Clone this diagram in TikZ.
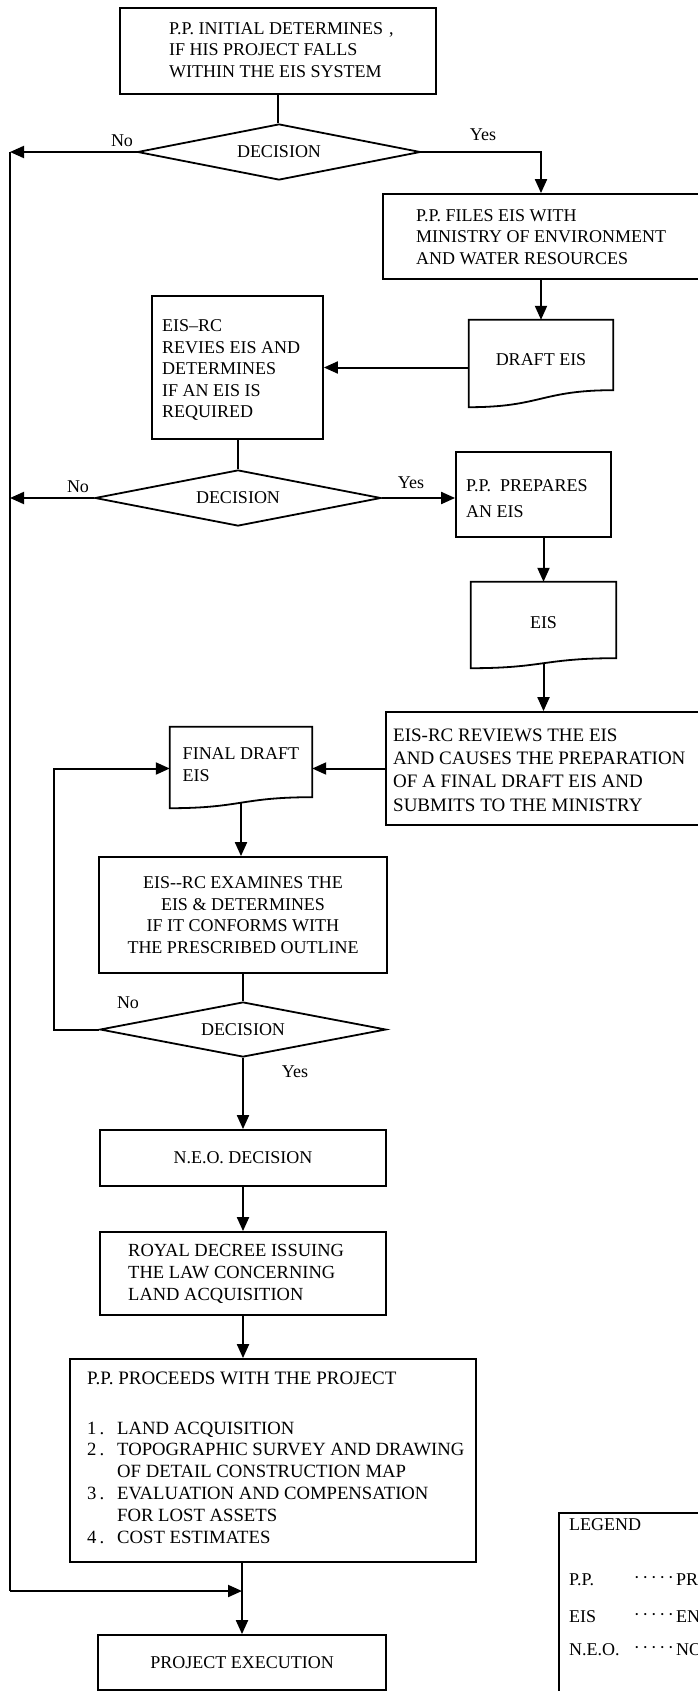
\documentclass[tikz,border=0pt]{standalone}
\usepackage{fontspec}
\setmainfont{Liberation Serif}
\usetikzlibrary{arrows.meta,shapes.geometric,calc}
\newcommand\lgdots{·\kern2.5pt·\kern2.5pt·\kern2.5pt·\kern2.5pt·}
\newcommand\docpath[2]{\draw[shapeline] (#1.north west) -- (#1.north east) -- ($(#1.south east)+(0,-#2)$) .. controls ($(#1.south)+(0,-#2)$) and ($(#1.south)+(0,#2)$) .. ($(#1.south west)+(0,#2)$) -- cycle;}
\begin{document}
\begin{tikzpicture}[x=1pt,y=-1pt,
  every node/.style={font=\fontsize{18}{21.5}\selectfont, inner sep=0pt},
  shapeline/.style={draw, line width=1.8pt},
  box/.style={shapeline, rectangle},
  docn/.style={rectangle, align=left},
  dec/.style={shapeline, diamond, aspect=5},
  txt/.style={align=left, anchor=west},
  ctxt/.style={align=center},
  ln/.style={line width=2pt},
  arr/.style={line width=2pt, -{Triangle[length=14pt,width=12pt]}},
]
\useasboundingbox (0,0) rectangle (698,1691);
\clip (0,0) rectangle (698,1691);

% ---- nodes ----
\node[box, minimum width=316, minimum height=86] (b1) at (278,51) {};
\node[txt] (t1) at (169,50) {P.P. INITIAL DETERMINES\rlap{\hspace{6pt},}\\IF HIS PROJECT FALLS\\WITHIN THE EIS SYSTEM};
\node[dec, minimum width=283, minimum height=56] (d1) at (279,152) {DECISION};
\node (no1) at (122,141) {No};
\node (yes1) at (483,135) {Yes};

\node[box, minimum width=316, minimum height=85] (b2) at (541,236.5) {};
\node[txt] (t2) at (416,237) {P.P. FILES EIS WITH\\MINISTRY OF ENVIRONMENT\\AND WATER RESOURCES};

\node[docn, minimum width=144, minimum height=78.5] (dd) at (541,359.25) {DRAFT EIS};
\docpath{dd}{8.5}

\node[box, minimum width=171, minimum height=143] (b3) at (237.5,367.5) {};
\node[txt] (t3) at (162,370) {EIS–RC\\REVIES EIS AND\\DETERMINES\\IF AN EIS IS\\REQUIRED};

\node[dec, minimum width=286, minimum height=56] (d2) at (238,498) {DECISION};
\node (no2) at (78,487) {No};
\node (yes2) at (411,483) {Yes};

\node[box, minimum width=155, minimum height=85] (b4) at (533.5,494.5) {};
\node[txt] (t4) at (466,498.5) {P.P.\ \ PREPARES\\[5pt]AN EIS};

\node[docn, minimum width=145, minimum height=81] (e1) at (543.5,622.5) {EIS};
\docpath{e1}{5}

\node[box, minimum width=314, minimum height=113] (b5) at (543,768.5) {};
\node[txt, font=\fontsize{19}{23.3}\selectfont] (t5) at (393,770) {EIS-RC REVIEWS THE EIS\\AND CAUSES THE PREPARATION\\OF A FINAL DRAFT EIS AND\\SUBMITS TO THE MINISTRY};

\node[docn, minimum width=142, minimum height=75.5] (fd) at (241,764.75) {FINAL DRAFT\\EIS};
\docpath{fd}{5.5}

\node[box, ctxt, minimum width=288, minimum height=116] (b6) at (243,915) {EIS-{}-RC EXAMINES THE\\EIS \& DETERMINES\\IF IT CONFORMS WITH\\THE PRESCRIBED OUTLINE};

\node[dec, minimum width=286, minimum height=55] (d3) at (243,1029.5) {DECISION};
\node (no3) at (128,1003) {No};
\node (yes3) at (295,1072) {Yes};

\node[box, minimum width=286, minimum height=56] (b7) at (243,1158) {N.E.O. DECISION};

\node[box, minimum width=286, minimum height=83] (b8) at (243,1273.5) {};
\node[txt, font=\fontsize{18.5}{22}\selectfont] (t8) at (128,1274) {ROYAL DECREE ISSUING\\THE LAW CONCERNING\\LAND ACQUISITION};

\node[box, minimum width=406, minimum height=203] (b9) at (273,1460.5) {};
\node[txt, font=\fontsize{19}{21.8}\selectfont] (t9a) at (87,1378) {P.P. PROCEEDS WITH THE PROJECT};
\node[txt, font=\fontsize{18.7}{21.8}\selectfont] (t9b) at (87,1482.5) {\makebox[30pt][l]{1\,.}LAND ACQUISITION\\ \makebox[30pt][l]{2\,.}TOPOGRAPHIC SURVEY AND DRAWING\\ \makebox[30pt][l]{}OF DETAIL CONSTRUCTION MAP\\ \makebox[30pt][l]{3\,.}EVALUATION AND COMPENSATION\\ \makebox[30pt][l]{}FOR LOST ASSETS\\ \makebox[30pt][l]{4\,.}COST ESTIMATES};

\node[box, minimum width=288, minimum height=55] (b10) at (242,1662.5) {PROJECT EXECUTION};

% ---- legend ----
\node[box, anchor=north west, minimum width=200, minimum height=220] (lg) at (558,1512) {};
\node[txt] (lgt) at (569,1525) {LEGEND};
\node[txt] (lg1) at (569,1580) {P.P.};
\node[txt] (lg2) at (569,1617) {EIS};
\node[txt] (lg3) at (569,1650) {N.E.O.};
\node[anchor=east] (lg1d) at (674,1580) {\lgdots};
\node[anchor=east] (lg2d) at (674,1617) {\lgdots};
\node[anchor=east] (lg3d) at (674,1650) {\lgdots};
\node[txt] (lg1w) at (676,1580) {PR};
\node[txt] (lg2w) at (676,1617) {EN};
\node[txt] (lg3w) at (676,1650) {NO};

% ---- connectors ----
\coordinate (ltop) at (10,152);
\coordinate (lbot) at (10,1591);
\draw[ln] (b1.south) -- (b1.south |- d1.north);
\draw[arr] (d1.west) -- (d1.west -| ltop);
\draw[arr] (d1.east) -| (b2.north);
\draw[arr] (b2.south) -- (dd.north);
\draw[arr] (dd.west |- b3.east) -- (b3.east);
\draw[ln] (b3.south) -- (b3.south |- d2.north);
\draw[arr] (d2.west) -- (d2.west -| ltop);
\draw[arr] (d2.east) -- (d2.east -| b4.west);
\draw[arr] (b4.south -| e1.north) -- (e1.north);
\draw[arr] (e1.south) -- (e1.south |- b5.north);
\draw[arr] (b5.west) -- (b5.west -| fd.east);
\draw[arr] (fd.south) -- (fd.south |- b6.north);
\draw[ln] (b6.south) -- (d3.north);
\draw[arr] (d3.west) -- ++(-45,0) |- (fd.west |- b5.west);
\draw[arr] (d3.south) -- (b7.north);
\draw[arr] (b7.south) -- (b8.north);
\draw[arr] (b8.south) -- (b8.south |- b9.north);
\draw[arr] (b10.north |- b9.south) -- (b10.north);
\draw[ln] (ltop) -- (lbot);
\draw[arr] (lbot) -- (lbot -| b10.north);
\end{tikzpicture}
\end{document}
